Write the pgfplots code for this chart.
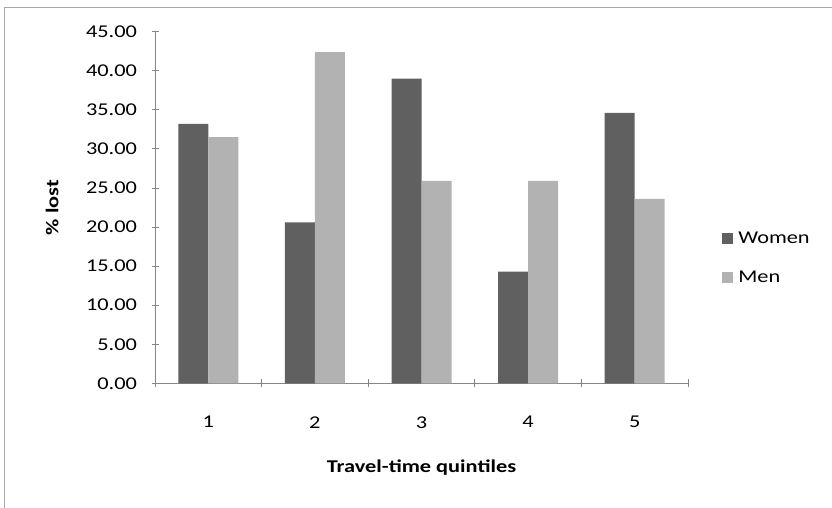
\documentclass[border=0pt]{standalone}
\usepackage{pgfplots}
\pgfplotsset{compat=1.18}
\usepackage{fontspec}
\setmainfont[FakeStretch=1.24]{Carlito}
\definecolor{women}{HTML}{606060}
\definecolor{men}{HTML}{B2B2B2}
\definecolor{axisgray}{HTML}{868686}
\begin{document}
\begin{tikzpicture}[x=1pt,y=1pt,font=\fontsize{18}{22}\selectfont]
\path[use as bounding box] (0,0) rectangle (832,508);
\draw[color=axisgray!70, line width=1pt] (4,0) -- (4,500) -- (832,500);
\begin{axis}[
  at={(155pt,124.7pt)}, anchor=origin,
  scale only axis, width=533pt, height=351.6pt,
  ybar, bar width=30pt,
  xmin=0.5, xmax=5.5, ymin=0, ymax=45,
  xtick={1,2,3,4,5}, xticklabels={1,2,3,4,5},
  major x tick style={draw=none},
  minor xtick={0.5,1.5,2.5,3.5,4.5,5.5},
  minor x tick style={axisgray, line width=0.8pt},
  minor tick length=8pt,
  ytick={0,5,...,45},
  major tick length=7pt,
  y tick style={axisgray, line width=0.8pt},
  tick align=outside,
  axis x line=bottom, axis y line=left,
  axis line style={-, axisgray, line width=0.8pt},
  /pgf/number format/.cd, fixed, fixed zerofill, precision=2, assume math mode=true,
  /pgfplots/.cd,
  yticklabel shift=11pt,
  xticklabel shift=26pt,
  xlabel={\textbf{Travel-time quintiles}},
  ylabel={\textbf{\% lost}},
  xlabel style={at={(axis description cs:0.5,-0.24)}, anchor=center},
  ylabel style={at={(axis description cs:-0.193,0.5)}, anchor=center},
  legend style={at={(rel axis cs:1.064,0.356)}, anchor=west, draw=none, fill=none,
    row sep=22pt, inner sep=0pt, font=\fontsize{18}{22}\selectfont},
  legend cell align=left,
  legend image code/.code={\fill[#1] (0pt,-5.5pt) rectangle (11pt,5.5pt); \path (0pt,0pt) -- (14pt,0pt);},
]
\addplot[fill=women, draw=none, bar shift=-15pt] coordinates {(1,33.2) (2,20.6) (3,39.0) (4,14.3) (5,34.6)};
\addplot[fill=men, draw=none, bar shift=15pt] coordinates {(1,31.5) (2,42.4) (3,25.9) (4,25.9) (5,23.6)};
\legend{Women,Men}
\end{axis}
\end{tikzpicture}
\end{document}
